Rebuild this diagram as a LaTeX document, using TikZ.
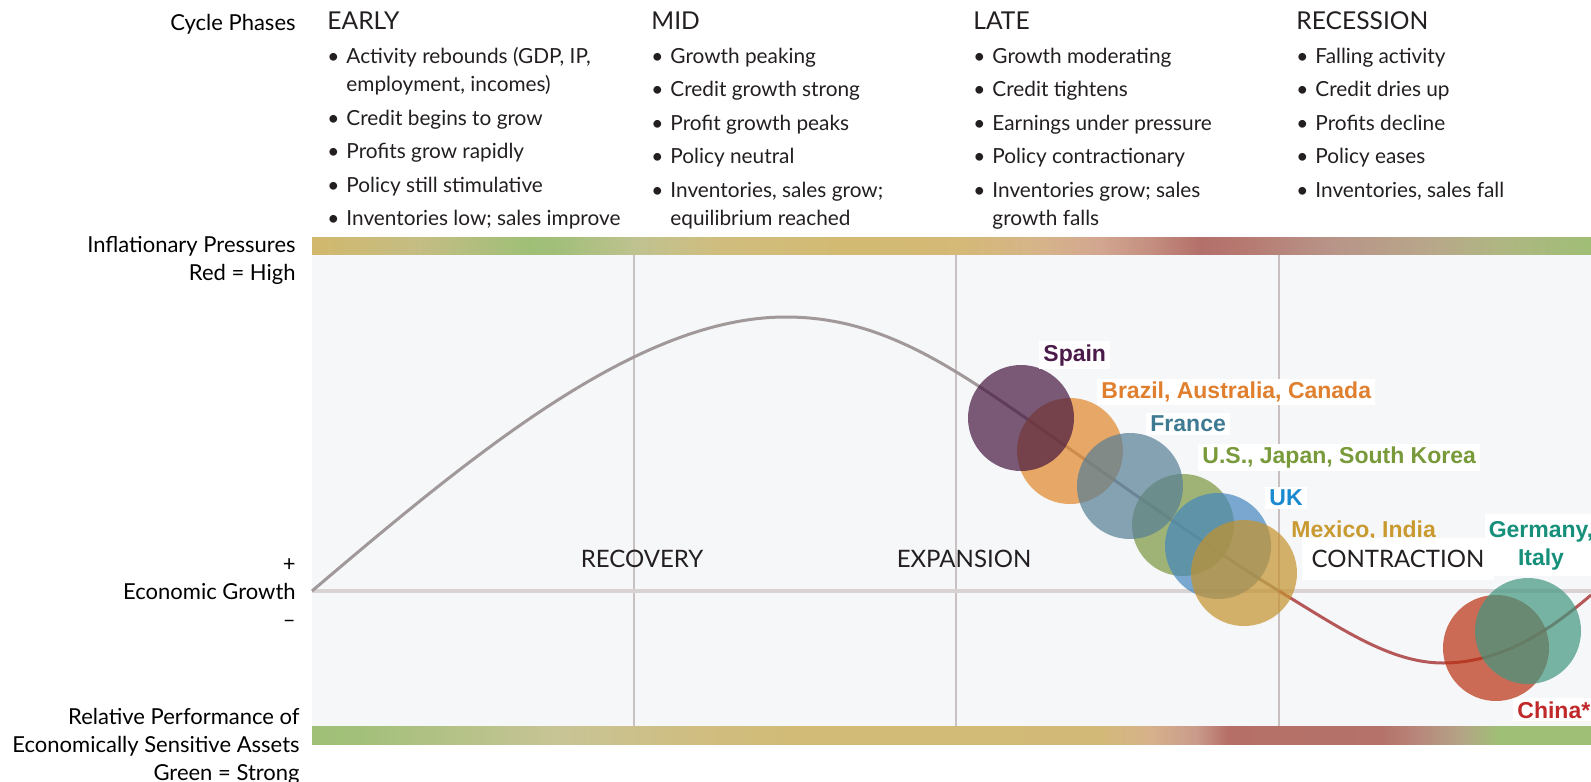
\documentclass[tikz,border=0pt]{standalone}
\usepackage{fontspec}
\setmainfont{Lato}
\newfontfamily\ctyfont{Liberation Sans}

\definecolor{plotbg}{HTML}{F6F7F9}
\definecolor{gridcol}{HTML}{C9C1C1}
\definecolor{axiscol}{HTML}{D9D3D3}
\definecolor{curvegrey}{HTML}{A09899}
\definecolor{curvered}{HTML}{B5585A}
\definecolor{txt}{HTML}{231F20}
% country colours: text / circle
\definecolor{spaint}{HTML}{4B1C4A}\definecolor{spainf}{HTML}{461740}
\definecolor{brazilt}{HTML}{E07F2E}\definecolor{brazilf}{HTML}{E28629}
\definecolor{francet}{HTML}{3E7B93}\definecolor{francef}{HTML}{567E96}
\definecolor{ust}{HTML}{789A3A}\definecolor{usf}{HTML}{7B9740}
\definecolor{ukt}{HTML}{1A8AD0}\definecolor{ukf}{HTML}{4586BE}
\definecolor{mexicot}{HTML}{C89A30}\definecolor{mexicof}{HTML}{C5922C}
\definecolor{chinat}{HTML}{C0282A}\definecolor{chinaf}{HTML}{BA3012}
\definecolor{germanyt}{HTML}{16907A}\definecolor{germanyf}{HTML}{42977F}

% top bar (inflation)
\definecolor{tA}{HTML}{D2B86C}\definecolor{tB}{HTML}{C4BD84}\definecolor{tC}{HTML}{9FBF77}
\definecolor{tD}{HTML}{A3BF7B}\definecolor{tE}{HTML}{C0C290}\definecolor{tF}{HTML}{D0BD7E}
\definecolor{tG}{HTML}{D3BA72}\definecolor{tH}{HTML}{D4B977}\definecolor{tI}{HTML}{D6B48A}
\definecolor{tJ}{HTML}{D2A690}\definecolor{tK}{HTML}{C48E80}\definecolor{tL}{HTML}{B3706A}
\definecolor{tM}{HTML}{B67870}\definecolor{tN}{HTML}{B89488}\definecolor{tO}{HTML}{B8A78A}
\definecolor{tP}{HTML}{AFB682}\definecolor{tQ}{HTML}{A0BE76}
\pgfdeclarehorizontalshading{inflbar}{100bp}{color(0bp)=(tA); color(25bp)=(tA);
  color(29.2bp)=(tB); color(33.5bp)=(tC); color(34.7bp)=(tD); color(37.8bp)=(tE);
  color(40.9bp)=(tF); color(46bp)=(tG); color(50.3bp)=(tH); color(53.5bp)=(tI);
  color(55.8bp)=(tJ); color(57.8bp)=(tK); color(59.7bp)=(tL); color(61.3bp)=(tM);
  color(64.8bp)=(tN); color(68.7bp)=(tO); color(71.4bp)=(tP); color(75bp)=(tQ);
  color(100bp)=(tQ)}

% bottom bar (asset performance)
\definecolor{rA}{HTML}{9FBF76}\definecolor{rB}{HTML}{A3C07A}\definecolor{rC}{HTML}{C8C496}
\definecolor{rD}{HTML}{D0BD80}\definecolor{rE}{HTML}{D1BB76}\definecolor{rF}{HTML}{D3B978}
\definecolor{rG}{HTML}{D6B18C}\definecolor{rH}{HTML}{C99A8A}\definecolor{rI}{HTML}{B56F67}
\definecolor{rJ}{HTML}{B4726A}\definecolor{rK}{HTML}{B8887C}\definecolor{rL}{HTML}{B4A486}
\definecolor{rM}{HTML}{A0BF76}
\pgfdeclarehorizontalshading{perfbar}{100bp}{color(0bp)=(rA); color(25bp)=(rA);
  color(26.9bp)=(rB); color(34.7bp)=(rC); color(40.2bp)=(rD); color(44.1bp)=(rE);
  color(55.8bp)=(rF); color(57.8bp)=(rG); color(59.6bp)=(rH); color(60.8bp)=(rI);
  color(66.8bp)=(rJ); color(68.3bp)=(rK); color(69.9bp)=(rL); color(71.4bp)=(rM);
  color(100bp)=(rM)}

\tikzset{
  phasecol/.style={anchor=base west, inner sep=0pt, text=txt,
    font=\fontsize{10.4}{14.25}\selectfont},
  sidelabel/.style={anchor=base east, inner sep=0pt, text=black,
    font=\fontsize{11}{14}\selectfont},
  stage/.style={anchor=base, inner sep=0pt, text=txt, font=\fontsize{12}{14}\selectfont},
  cty/.style={anchor=base west, fill=white, inner xsep=2pt, inner ysep=1.5pt,
    font=\ctyfont\bfseries\fontsize{11.5}{14}\selectfont},
  bubble/.style={fill opacity=.7},
  curveline/.style={line width=1.5pt}
}

\newcommand{\bul}{\textbullet}
\newcommand{\hd}{\fontsize{12.3}{14.25}\selectfont}

\begin{document}
\begin{tikzpicture}[x=0.5pt,y=-0.5pt]
  \useasboundingbox (0,0) rectangle (1591,782);
  \clip (0,0) rectangle (1591,782);

  % bars and plot area
  \shade[shading=inflbar] (312,237) rectangle (1591,255);
  \fill[plotbg] (312,255) rectangle (1591,726);
  \shade[shading=perfbar] (312,726) rectangle (1591,744);
  \foreach \gx in {634,956,1279}
    \draw[gridcol, line width=0.75pt] (\gx,255) -- (\gx,726);
  \draw[axiscol, line width=2pt] (312,591) -- (1591,591);

  % the cycle curve
  \draw[curveline, curvegrey] (312,591) .. controls (480,448) and (640,317) .. (786,317)
    .. controls (880,317) and (950,365) .. (1040,428)
    .. controls (1130,491) and (1220,555) .. (1279,591);
  \draw[curveline, curvered] (1279,591) .. controls (1340,628) and (1390,663) .. (1443,663)
    .. controls (1500,663) and (1548,632) .. (1591,595);

  % countries
  \fill[bubble, brazilf] (1070,451) circle (53);
  \fill[bubble, spainf] (1021,418) circle (53);
  \fill[bubble, usf] (1183,525) circle (51);
  \fill[bubble, francef] (1130,486) circle (53);
  \fill[bubble, ukf] (1218,546) circle (53);
  \fill[bubble, mexicof] (1244,573) circle (53);
  \fill[bubble, chinaf] (1496,648) circle (53);
  \fill[bubble, germanyf] (1528,631) circle (53);

  \node[cty, text=spaint] (spain) at (1039,361) {Spain};
  \node[cty, text=brazilt] (brazil) at (1097,398.5) {Brazil, Australia, Canada};
  \node[cty, text=francet] (france) at (1146,431.5) {France};
  \node[cty, text=ust] (usa) at (1198,463.5) {U.S., Japan, South Korea};
  \node[cty, text=ukt] (uk) at (1265,505.5) {UK};
  \node[cty, text=mexicot, fill=none] (mexico) at (1287,537.5) {Mexico, India};
  \node[cty, text=germanyt, anchor=base] (germany) at (1541,537)
    {\begin{tabular}[t]{@{}c@{}}Germany,\\ Italy\end{tabular}};
  \node[cty, text=chinat] (china) at (1513,718) {China*};

  % stage names
  \node[stage] (recovery) at (642,567.5) {RECOVERY};
  \node[stage] (expansion) at (964,567.5) {EXPANSION};
  \node[stage, fill=white, inner xsep=5pt, inner ysep=6pt] (contraction) at (1398,567.5) {CONTRACTION};

  % left labels
  \node[sidelabel] (cycle) at (296,30) {Cycle Phases};
  \node[sidelabel] (inflation) at (296,252)
    {\begin{tabular}[t]{@{}r@{}}Inflationary Pressures\\ Red = High\end{tabular}};
  \node[sidelabel] (growth) at (296,571)
    {\begin{tabular}[t]{@{}r@{}}+\\ Economic Growth\\ –\end{tabular}};
  \node[sidelabel] (relperf) at (300,724)
    {\begin{tabular}[t]{@{}r@{}}Relative Performance of\\ Economically Sensitive Assets\\ Green = Strong\end{tabular}};

  % phase columns
  \node[phasecol] (early) at (327,29.5) {\begin{tabular}[t]{@{}l@{\hspace{3.5pt}}l@{}}
    \multicolumn{2}{@{}l@{}}{\hd EARLY}\\[2.5pt]
    \bul & Activity rebounds (GDP, IP,\\
         & employment, incomes)\\[2.5pt]
    \bul & Credit begins to grow\\[2.5pt]
    \bul & Profits grow rapidly\\[2.5pt]
    \bul & Policy still stimulative\\[2.5pt]
    \bul & Inventories low; sales improve
  \end{tabular}};
  \node[phasecol] (mid) at (651,29.5) {\begin{tabular}[t]{@{}l@{\hspace{3.5pt}}l@{}}
    \multicolumn{2}{@{}l@{}}{\hd MID}\\[2.5pt]
    \bul & Growth peaking\\[2.5pt]
    \bul & Credit growth strong\\[2.5pt]
    \bul & Profit growth peaks\\[2.5pt]
    \bul & Policy neutral\\[2.5pt]
    \bul & Inventories, sales grow;\\
         & equilibrium reached
  \end{tabular}};
  \node[phasecol] (late) at (973,29.5) {\begin{tabular}[t]{@{}l@{\hspace{3.5pt}}l@{}}
    \multicolumn{2}{@{}l@{}}{\hd LATE}\\[2.5pt]
    \bul & Growth moderating\\[2.5pt]
    \bul & Credit tightens\\[2.5pt]
    \bul & Earnings under pressure\\[2.5pt]
    \bul & Policy contractionary\\[2.5pt]
    \bul & Inventories grow; sales\\
         & growth falls
  \end{tabular}};
  \node[phasecol] (recession) at (1296,29.5) {\begin{tabular}[t]{@{}l@{\hspace{3.5pt}}l@{}}
    \multicolumn{2}{@{}l@{}}{\hd RECESSION}\\[2.5pt]
    \bul & Falling activity\\[2.5pt]
    \bul & Credit dries up\\[2.5pt]
    \bul & Profits decline\\[2.5pt]
    \bul & Policy eases\\[2.5pt]
    \bul & Inventories, sales fall
  \end{tabular}};
\end{tikzpicture}
\end{document}
